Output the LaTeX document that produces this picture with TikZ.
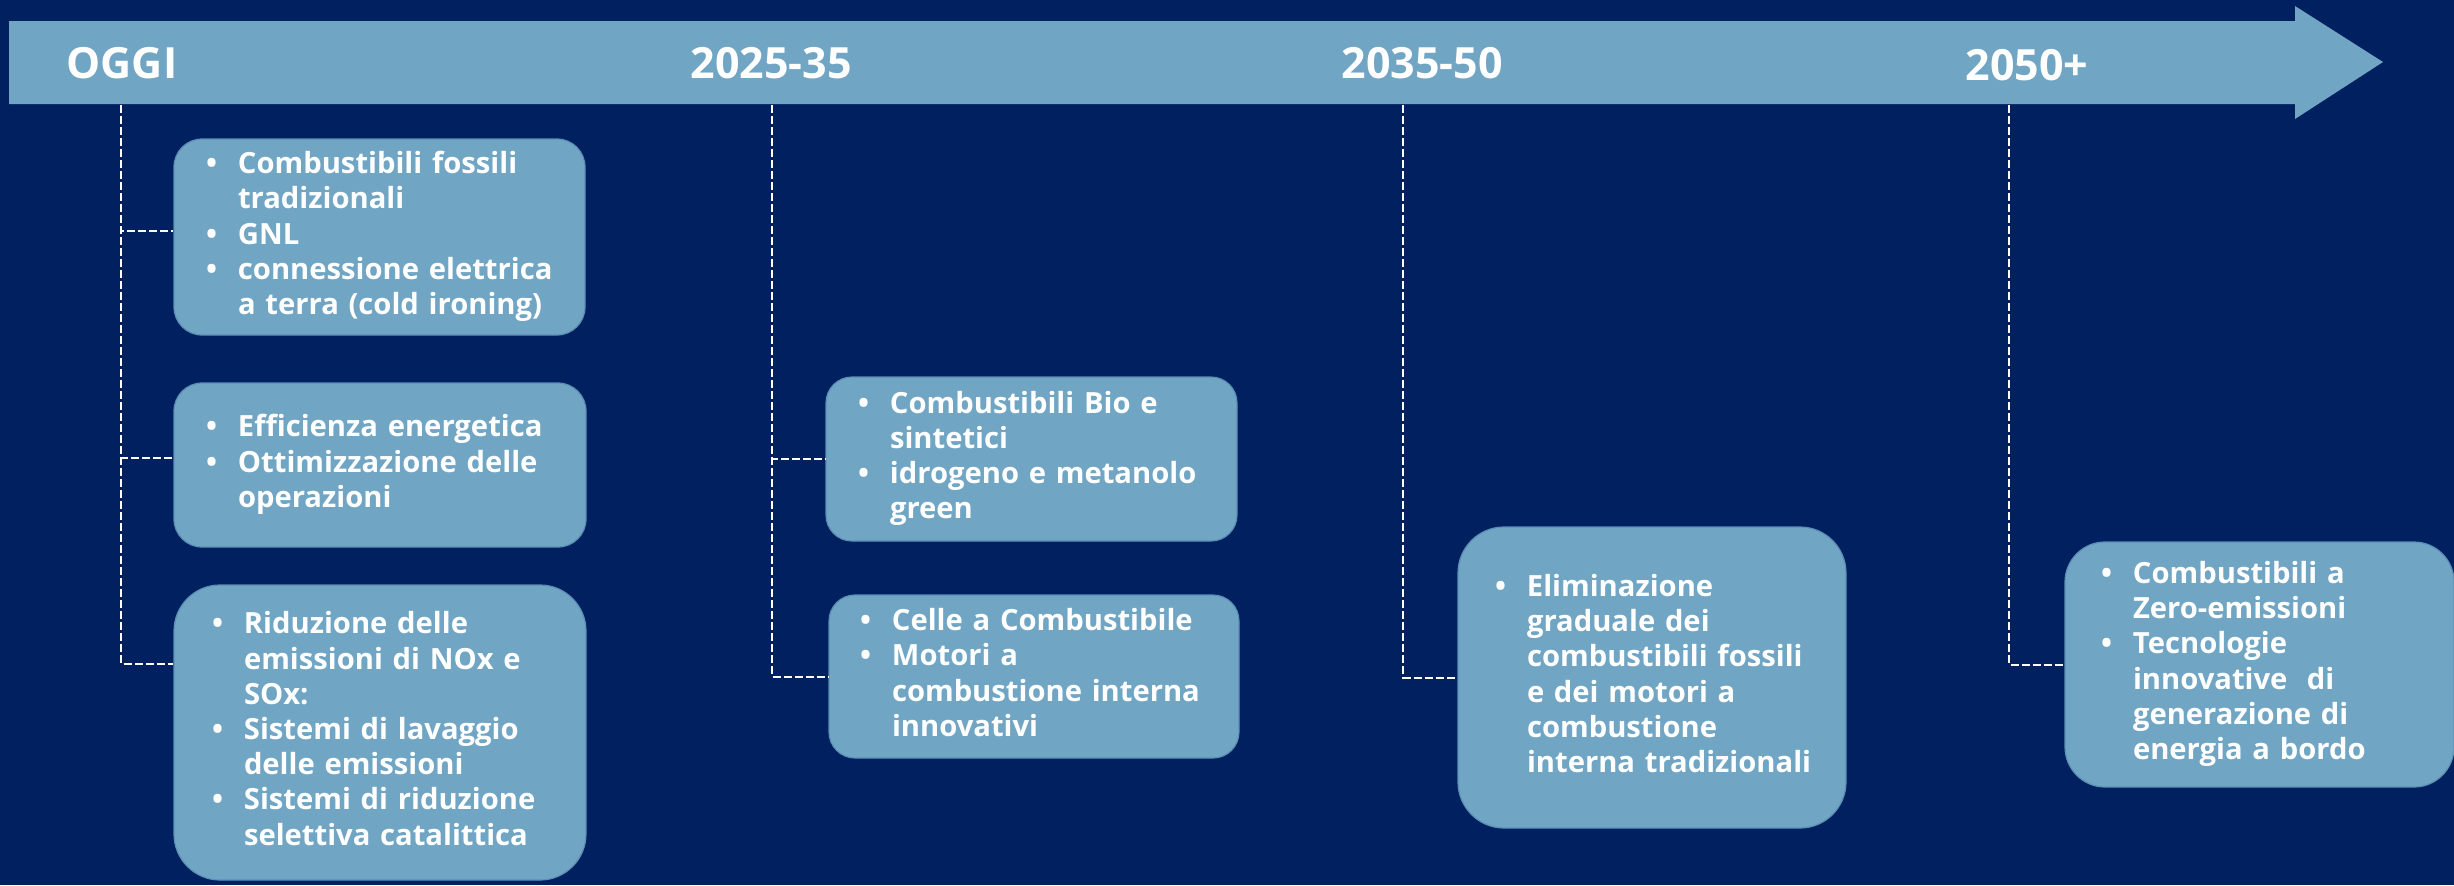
\documentclass[tikz,border=0pt]{standalone}
\usepackage{fontspec}
\setmainfont{Open Sans}
\usetikzlibrary{positioning}

\definecolor{notte}{RGB}{0,32,96}
\definecolor{azzurro}{RGB}{112,165,196}
\definecolor{bordo}{RGB}{92,142,182}

\newenvironment{punti}{\begin{tabular}{@{}p{16pt}@{}l@{}}}{\end{tabular}}

\begin{document}
\begin{tikzpicture}[x=0.5pt,y=-0.5pt]
\tikzset{titolo/.style={text=white, inner sep=0pt, font=\bfseries\fontsize{21.5}{26}\selectfont}}
\tikzset{tappa/.style={fill=azzurro, draw=bordo, line width=0.6pt, text=white, align=left, inner ysep=0pt, font=\bfseries\fontsize{14.6}{17.6}\selectfont}}
\tikzset{linea/.style={draw=white, line width=1pt, dash pattern=on 4pt off 1.5pt}}
\fill[notte] (0,0) rectangle (2454,885);
\useasboundingbox (0,0) rectangle (2454,885);
\fill[azzurro] (9,21) -- (2295,21) -- (2295,6) -- (2383,62) -- (2295,119) -- (2295,104) -- (9,104) -- cycle;
\node[titolo] (oggi) at (122,63) {OGGI};
\node[titolo] (p1) at (771,63) {2025-35};
\node[titolo] (p2) at (1422,63) {2035-50};
\node[titolo] (p3) at (2027,65) {2050+};
\coordinate (t1) at (121,105);
\coordinate (t2) at (772,105);
\coordinate (t3) at (1403,105);
\coordinate (t4) at (2009,105);
\node[tappa, rounded corners=14pt, minimum height=98pt, inner xsep=16pt, text width=173.5pt] (b1) at (379.5,237) {\begin{punti}
\textbullet & Combustibili fossili\\
 & tradizionali\\
\textbullet & GNL\\
\textbullet & connessione elettrica\\
 & a terra (cold ironing)
\end{punti}};
\node[tappa, rounded corners=14pt, minimum height=82pt, inner xsep=16pt, text width=174pt] (b2) at (380,465) {\begin{punti}
\textbullet & Efficienza energetica\\
\textbullet & Ottimizzazione delle\\
 & operazioni
\end{punti}};
\node[tappa, rounded corners=23pt, minimum height=147.5pt, inner xsep=19pt, text width=168pt] (b3) at (380,732.5) {\begin{punti}
\textbullet & Riduzione delle\\
 & emissioni di NOx e\\
 & SOx:\\
\textbullet & Sistemi di lavaggio\\
 & delle emissioni\\
\textbullet & Sistemi di riduzione\\
 & selettiva catalittica
\end{punti}};
\node[tappa, rounded corners=13pt, minimum height=82pt, inner xsep=16pt, text width=173.5pt] (b4) at (1031.5,459) {\begin{punti}
\textbullet & Combustibili Bio e\\
 & sintetici\\
\textbullet & idrogeno e metanolo\\
 & green
\end{punti}};
\node[tappa, rounded corners=13pt, minimum height=81.5pt, inner xsep=15.5pt, text width=174pt] (b5) at (1034,676.5) {\begin{punti}
\textbullet & Celle a Combustibile\\
\textbullet & Motori a\\
 & combustione interna\\
 & innovativi
\end{punti}};
\node[tappa, rounded corners=23pt, minimum height=150.5pt, inner xsep=18.5pt, text width=157pt] (b6) at (1652,677.5) {\begin{punti}
\textbullet & Eliminazione\\
 & graduale dei\\
 & combustibili fossili\\
 & e dei motori a\\
 & combustione\\
 & interna tradizionali
\end{punti}};
\node[tappa, rounded corners=20pt, minimum height=122.5pt, inner xsep=18pt, text width=158.5pt] (b7) at (2259.5,664.5) {\begin{punti}
\textbullet & Combustibili a\\
 & Zero-emissioni\\
\textbullet & Tecnologie\\
 & innovative\ \ di\\
 & generazione di\\
 & energia a bordo
\end{punti}};
\draw[linea] (t1) |- ([yshift=3pt]b1.west);
\draw[linea] (t1) |- ([yshift=3.5pt]b2.west);
\draw[linea] (t1) |- ([yshift=34.5pt]b3.west);
\draw[linea] (t2) |- (b4.west);
\draw[linea] (t2) |- (b5.west);
\draw[linea] (t3) |- (b6.west);
\draw[linea] (t4) |- (b7.west);
\end{tikzpicture}
\end{document}
